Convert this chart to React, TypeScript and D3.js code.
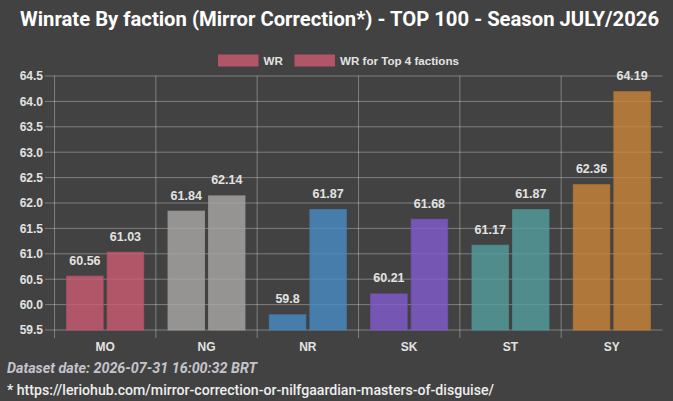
import React from 'react';
import * as d3 from 'd3';

const categories = ['MO', 'NG', 'NR', 'SK', 'ST', 'SY'];
const seriesNames = ['WR', 'WR for Top 4 factions'];
const wrValues = [60.56, 61.84, 59.8, 60.21, 61.17, 62.36];
const top4Values = [61.03, 62.14, 61.87, 61.68, 61.87, 64.19];
const yTicks = [59.5, 60.0, 60.5, 61.0, 61.5, 62.0, 62.5, 63.0, 63.5, 64.0, 64.5];
const barColors = ['#cc5b72', '#aba9a6', '#478cc4', '#835bd0', '#549f9f', '#cc853a'];
const title = 'Winrate By faction (Mirror Correction*) - TOP 100 - Season JULY/2026';
const datasetDate = 'Dataset date: 2026-07-31 16:00:32 BRT';
const footnote = '* https://leriohub.com/mirror-correction-or-nilfgaardian-masters-of-disguise/';

const W = 673;
const H = 401;
const left = 54.5;
const right = 662.5;
const top = 76;
const bottom = 330;
const grid = 'rgba(255,255,255,0.32)';
const labelColor = '#e2e2e2';
const axisFont = '"Liberation Sans", Arial, sans-serif';

export default function App() {
  const y = d3.scaleLinear().domain([59.5, 64.5]).range([bottom, top]);
  const x0 = d3.scaleBand<string>().domain(categories).range([left, right]).padding(0);
  const bw = x0.bandwidth();
  const x1 = d3
    .scaleBand<string>()
    .domain(seriesNames)
    .range([0.1 * bw, 0.9 * bw])
    .paddingInner(0.1)
    .paddingOuter(0.05);
  const series = [wrValues, top4Values];
  const fmt = d3.format('.1f');

  return (
    <svg
      width={W}
      height={H}
      style={{ position: 'fixed', left: 0, top: 0, display: 'block' }}
    >
      <rect x={0} y={0} width={W} height={H} fill="#424242" />
      <text
        x={20}
        y={26}
        textLength={639}
        lengthAdjust="spacingAndGlyphs"
        fill="#ffffff"
        fontFamily="Roboto, sans-serif"
        fontWeight={700}
        fontSize={20}
      >
        {title}
      </text>

      {/* legend */}
      {seriesNames.map((s, i) => {
        const bx = i === 0 ? 218.5 : 295;
        return (
          <g key={s}>
            <rect
              x={bx}
              y={55}
              width={39.5}
              height={11}
              fill={barColors[0]}
              fillOpacity={0.8}
              stroke={d3.color(barColors[0])!.darker(0.3).toString()}
              strokeWidth={1}
            />
            <text
              x={bx + 45}
              y={64.5}
              fill={labelColor}
              fontFamily={axisFont}
              fontWeight={700}
              fontSize={11.6}
            >
              {s}
            </text>
          </g>
        );
      })}

      {/* horizontal grid + y ticks */}
      {yTicks.map((t) => (
        <g key={t}>
          <line x1={45} x2={right} y1={y(t)} y2={y(t)} stroke={grid} strokeWidth={1} />
          <text
            x={43}
            y={y(t) + 4.3}
            textAnchor="end"
            fill={labelColor}
            fontFamily={axisFont}
            fontWeight={700}
            fontSize={12}
          >
            {fmt(t)}
          </text>
        </g>
      ))}

      {/* vertical grid */}
      {categories.map((c) => (
        <line
          key={c}
          x1={x0(c)!}
          x2={x0(c)!}
          y1={top}
          y2={bottom + 8}
          stroke={grid}
          strokeWidth={1}
        />
      ))}

      {/* bars */}
      {categories.map((c, ci) =>
        series.map((vals, si) => {
          const v = vals[ci];
          const bx = x0(c)! + x1(seriesNames[si])!;
          const by = y(v);
          const col = barColors[ci];
          return (
            <g key={c + si}>
              <rect
                x={bx}
                y={by}
                width={x1.bandwidth()}
                height={bottom - by}
                fill={col}
                fillOpacity={0.8}
                stroke={d3.color(col)!.darker(0.3).toString()}
                strokeOpacity={0.8}
                strokeWidth={1}
              />
              <text
                x={bx + x1.bandwidth() / 2}
                y={by - 11.5}
                textAnchor="middle"
                fill={labelColor}
                fontFamily={axisFont}
                fontWeight={700}
                fontSize={12.5}
              >
                {String(v)}
              </text>
            </g>
          );
        })
      )}

      {/* x labels */}
      {categories.map((c) => (
        <text
          key={c}
          x={x0(c)! + bw / 2}
          y={351}
          textAnchor="middle"
          fill={labelColor}
          fontFamily={axisFont}
          fontWeight={700}
          fontSize={12}
        >
          {c}
        </text>
      ))}

      <text
        x={7}
        y={372.7}
        textLength={250}
        lengthAdjust="spacingAndGlyphs"
        fill="#c4c4cc"
        fontFamily="Roboto, sans-serif"
        fontStyle="italic"
        fontWeight={700}
        fontSize={14}
      >
        {datasetDate}
      </text>
      <text
        x={7}
        y={395}
        textLength={487}
        lengthAdjust="spacingAndGlyphs"
        fill="#eeeeee"
        fontFamily="Roboto, sans-serif"
        fontWeight={500}
        fontSize={14}
      >
        {footnote}
      </text>
    </svg>
  );
}
